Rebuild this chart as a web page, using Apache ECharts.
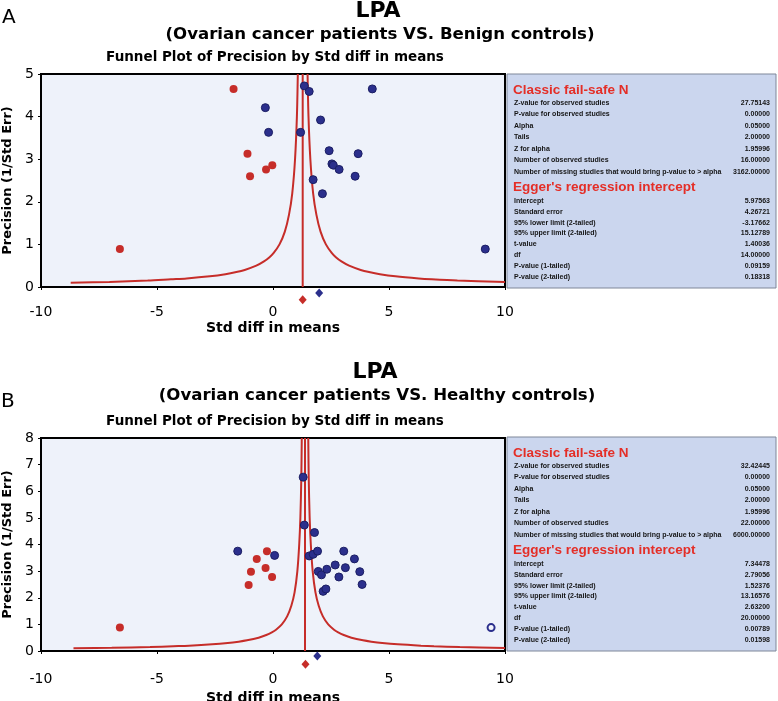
<!DOCTYPE html>
<html><head><meta charset="utf-8">
<script src="https://cdn.jsdelivr.net/npm/echarts@6/dist/echarts.min.js"></script>
<style>html,body{margin:0;padding:0;background:#fff}#c{width:778px;height:701px}</style>
</head><body><div id="c"></div>
<script>
// ---------- Panel A data (Benign controls) ----------
const obsA = [[1.35,4.72],[1.56,4.59],[4.28,4.65],[-0.33,4.21],[-0.19,3.63],[1.19,3.63],[2.05,3.92],[2.42,3.20],[2.54,2.89],[2.60,2.86],[2.85,2.76],[3.67,3.13],[3.54,2.60],[1.73,2.52],[2.13,2.19],[9.15,0.89]];
const impA = [[-1.70,4.65],[-1.10,3.13],[-0.99,2.60],[-0.30,2.76],[-0.03,2.86],[-6.60,0.89]];
const sumObsA = [[1.99,-0.14]];
const sumImpA = [[1.28,-0.30]];
const centerA = 1.28;
const funnelLeftA = [[-8.72,0.10],[-7.05,0.12],[-5.40,0.15],[-4.40,0.18],[-3.72,0.20],[-2.72,0.25],[-2.05,0.30],[-1.58,0.35],[-1.22,0.40],[-0.72,0.50],[-0.39,0.60],[-0.15,0.70],[0.03,0.80],[0.28,1.00],[0.51,1.30],[0.69,1.70],[0.83,2.20],[0.95,3.00],[1.03,4.00],[1.07,5.00]];
const funnelRightA = [[10.00,0.115],[7.95,0.15],[6.84,0.18],[6.28,0.20],[5.28,0.25],[4.61,0.30],[4.14,0.35],[3.78,0.40],[3.28,0.50],[2.95,0.60],[2.71,0.70],[2.53,0.80],[2.28,1.00],[2.05,1.30],[1.87,1.70],[1.73,2.20],[1.61,3.00],[1.53,4.00],[1.49,5.00]];
const statValuesA = ["27.75143","0.00000","0.05000","2.00000","1.95996","16.00000","3162.00000"];
const eggerValuesA = ["5.97563","4.26721","-3.17662","15.12789","1.40036","14.00000","0.09159","0.18318"];

// ---------- Panel B data (Healthy controls) ----------
const obsB = [[1.30,6.53],[1.35,4.73],[1.79,4.45],[-1.52,3.75],[0.07,3.59],[1.56,3.57],[1.73,3.63],[1.92,3.75],[1.95,2.99],[2.09,2.86],[2.32,3.07],[2.16,2.24],[2.28,2.33],[2.68,3.23],[2.84,2.78],[3.05,3.75],[3.12,3.13],[3.51,3.46],[3.74,2.98],[3.84,2.50]];
const obsOpenB = [[9.40,0.88]];
const impB = [[-0.26,3.75],[-0.70,3.46],[-0.32,3.12],[-0.95,2.98],[-0.04,2.78],[-1.05,2.48],[-6.60,0.88]];
const sumObsB = [[1.91,-0.19]];
const sumImpB = [[1.40,-0.50]];
const centerB = 1.38;
const funnelLeftB = [[-8.60,0.10],[-6.95,0.12],[-5.30,0.15],[-4.30,0.18],[-3.62,0.20],[-2.62,0.25],[-1.95,0.30],[-1.48,0.35],[-1.12,0.40],[-0.62,0.50],[-0.29,0.60],[-0.05,0.70],[0.13,0.80],[0.38,1.00],[0.61,1.30],[0.79,1.70],[0.93,2.20],[1.05,3.00],[1.13,4.00],[1.18,5.00],[1.22,6.50],[1.24,8.00]];
const funnelRightB = [[10.00,0.116],[8.05,0.15],[6.94,0.18],[6.38,0.20],[5.38,0.25],[4.71,0.30],[4.24,0.35],[3.88,0.40],[3.38,0.50],[3.05,0.60],[2.81,0.70],[2.63,0.80],[2.38,1.00],[2.15,1.30],[1.97,1.70],[1.83,2.20],[1.71,3.00],[1.63,4.00],[1.58,5.00],[1.54,6.50],[1.52,8.00]];
const statValuesB = ["32.42445","0.00000","0.05000","2.00000","1.95996","22.00000","6000.00000"];
const eggerValuesB = ["7.34478","2.79056","1.52376","13.16576","2.63200","20.00000","0.00789","0.01598"];

// ---------- Shared labels ----------
const xTickLabels = ["-10","-5","0","5","10"];
const statLabels = ["Z-value for observed studies","P-value for observed studies","Alpha","Tails","Z for alpha","Number of observed studies","Number of missing studies that would bring p-value to > alpha"];
const eggerLabels = ["Intercept","Standard error","95% lower limit (2-tailed)","95% upper limit (2-tailed)","t-value","df","P-value (1-tailed)","P-value (2-tailed)"];

const FONT = '"Liberation Sans", Arial, Helvetica, sans-serif';
const WFONT = '"DejaVu Sans", "Liberation Sans", sans-serif';
const RED = '#c62d29', BLUE = '#2b2f8c', BLUE_D = '#1b1e63';

const chart = echarts.init(document.getElementById('c'), null, {renderer:'canvas'});

function xAxisCfg(gi, nameGap, labelMargin){
  return {gridIndex:gi, type:'value', min:-10, max:10, interval:5,
    name:'Std diff in means', nameLocation:'middle', nameGap:nameGap,
    nameTextStyle:{fontFamily:WFONT, fontWeight:'bold', fontSize:14, color:'#000'},
    axisLine:{show:false, onZero:false}, axisTick:{show:true, length:3, lineStyle:{color:'#000'}},
    axisLabel:{margin:labelMargin, fontFamily:WFONT, fontSize:14, color:'#000',
      formatter:(v)=>xTickLabels[Math.round((v+10)/5)]},
    splitLine:{show:false}};
}
function yAxisCfg(gi, max){
  return {gridIndex:gi, type:'value', min:0, max:max, interval:1,
    name:'Precision (1/Std Err)', nameLocation:'middle', nameGap:25, nameRotate:90,
    nameTextStyle:{fontFamily:WFONT, fontWeight:'bold', fontSize:13, color:'#000'},
    axisLine:{show:false, onZero:false}, axisTick:{show:true, length:3, lineStyle:{color:'#000'}},
    axisLabel:{margin:7, fontFamily:WFONT, fontSize:14, color:'#000'},
    splitLine:{show:false}};
}
function panelSeries(i, obs, imp, sumObs, sumImp, center, ymax, fl, fr, open){
  const s = [
    {type:'line', xAxisIndex:i, yAxisIndex:i, data:fl, showSymbol:false, smooth:0.3, lineStyle:{color:RED,width:2}, z:3, silent:true},
    {type:'line', xAxisIndex:i, yAxisIndex:i, data:fr, showSymbol:false, smooth:0.3, lineStyle:{color:RED,width:2}, z:3, silent:true},
    {type:'line', xAxisIndex:i, yAxisIndex:i, data:[[center,0],[center,ymax]], showSymbol:false, lineStyle:{color:RED,width:2}, z:3, silent:true},
    {type:'scatter', xAxisIndex:i, yAxisIndex:i, data:imp, symbolSize:8, itemStyle:{color:RED, opacity:1}, z:4},
    {type:'scatter', xAxisIndex:i, yAxisIndex:i, data:obs, symbolSize:8, itemStyle:{color:BLUE, borderColor:BLUE_D, borderWidth:1, opacity:1}, z:5},
    {type:'scatter', xAxisIndex:i, yAxisIndex:i, data:sumObs, symbol:'diamond', symbolSize:[8,9], clip:false, itemStyle:{color:BLUE, opacity:1}, z:5},
    {type:'scatter', xAxisIndex:i, yAxisIndex:i, data:sumImp, symbol:'diamond', symbolSize:[8,9], clip:false, itemStyle:{color:RED, opacity:1}, z:5}
  ];
  if (open) s.push({type:'scatter', xAxisIndex:i, yAxisIndex:i, data:open, symbolSize:7, itemStyle:{color:'#f4f6fc', borderColor:BLUE, borderWidth:2, opacity:1}, z:5});
  return s;
}
function statBox(top, vals, egg){
  const L = 507, W = 269, H = 214;
  const els = [{type:'rect', shape:{x:L, y:top, width:W, height:H}, style:{fill:'#cbd6ee', stroke:'#7f8799', lineWidth:1}, z:100}];
  const txt = (x,y,t,o)=>({type:'text', x:x, y:y, z:101, style:Object.assign({text:t, fontFamily:FONT, fontSize:7, fontWeight:'bold', fill:'#151515', verticalAlign:'middle'}, o||{})});
  els.push(txt(L+6, top+16, 'Classic fail-safe N', {fontSize:13.5, fill:'#e42e27'}));
  statLabels.forEach((t,k)=>{ const y = top+29+k*11.5; els.push(txt(L+7,y,t)); els.push(txt(L+263,y,vals[k],{align:'right'})); });
  els.push(txt(L+6, top+113, "Egger's regression intercept", {fontSize:13.5, fill:'#e42e27'}));
  eggerLabels.forEach((t,k)=>{ const y = top+127+k*10.8; els.push(txt(L+7,y,t)); els.push(txt(L+263,y,egg[k],{align:'right'})); });
  return els;
}

const ts = (size, weight)=>({fontFamily:WFONT, fontSize:size, fontWeight:weight, color:'#000'});
const option = {
  animation:false,
  backgroundColor:'#ffffff',
  title:[
    {text:'LPA', left:378, top:0, padding:0, textAlign:'center', textStyle:ts(22,'bold')},
    {text:'(Ovarian cancer patients VS. Benign controls)', left:380, top:26, padding:0, textAlign:'center', textStyle:ts(16.6,'bold')},
    {text:'Funnel Plot of Precision by Std diff in means', left:275, top:50, padding:0, textAlign:'center', textStyle:ts(13.5,'bold')},
    {text:'A', left:2, top:8, padding:0, textStyle:ts(20,'normal')},
    {text:'LPA', left:375, top:361, padding:0, textAlign:'center', textStyle:ts(22,'bold')},
    {text:'(Ovarian cancer patients VS. Healthy controls)', left:377, top:387, padding:0, textAlign:'center', textStyle:ts(16.6,'bold')},
    {text:'Funnel Plot of Precision by Std diff in means', left:275, top:414, padding:0, textAlign:'center', textStyle:ts(13.5,'bold')},
    {text:'B', left:1, top:392, padding:0, textStyle:ts(20,'normal')}
  ],
  grid:[
    {left:41, top:74, width:464, height:213, show:true, backgroundColor:'#eef2fa', borderColor:'#000', borderWidth:2, outerBoundsMode:'none', containLabel:false},
    {left:41, top:438, width:464, height:213, show:true, backgroundColor:'#eef2fa', borderColor:'#000', borderWidth:2, outerBoundsMode:'none', containLabel:false}
  ],
  xAxis:[xAxisCfg(0, 34, 18), xAxisCfg(1, 40, 21)],
  yAxis:[yAxisCfg(0,5), yAxisCfg(1,8)],
  series:[].concat(
    panelSeries(0, obsA, impA, sumObsA, sumImpA, centerA, 5, funnelLeftA, funnelRightA, null),
    panelSeries(1, obsB, impB, sumObsB, sumImpB, centerB, 8, funnelLeftB, funnelRightB, obsOpenB)
  ),
  graphic:[].concat(statBox(74, statValuesA, eggerValuesA), statBox(437, statValuesB, eggerValuesB))
};
chart.setOption(option);
</script>
</body></html>
